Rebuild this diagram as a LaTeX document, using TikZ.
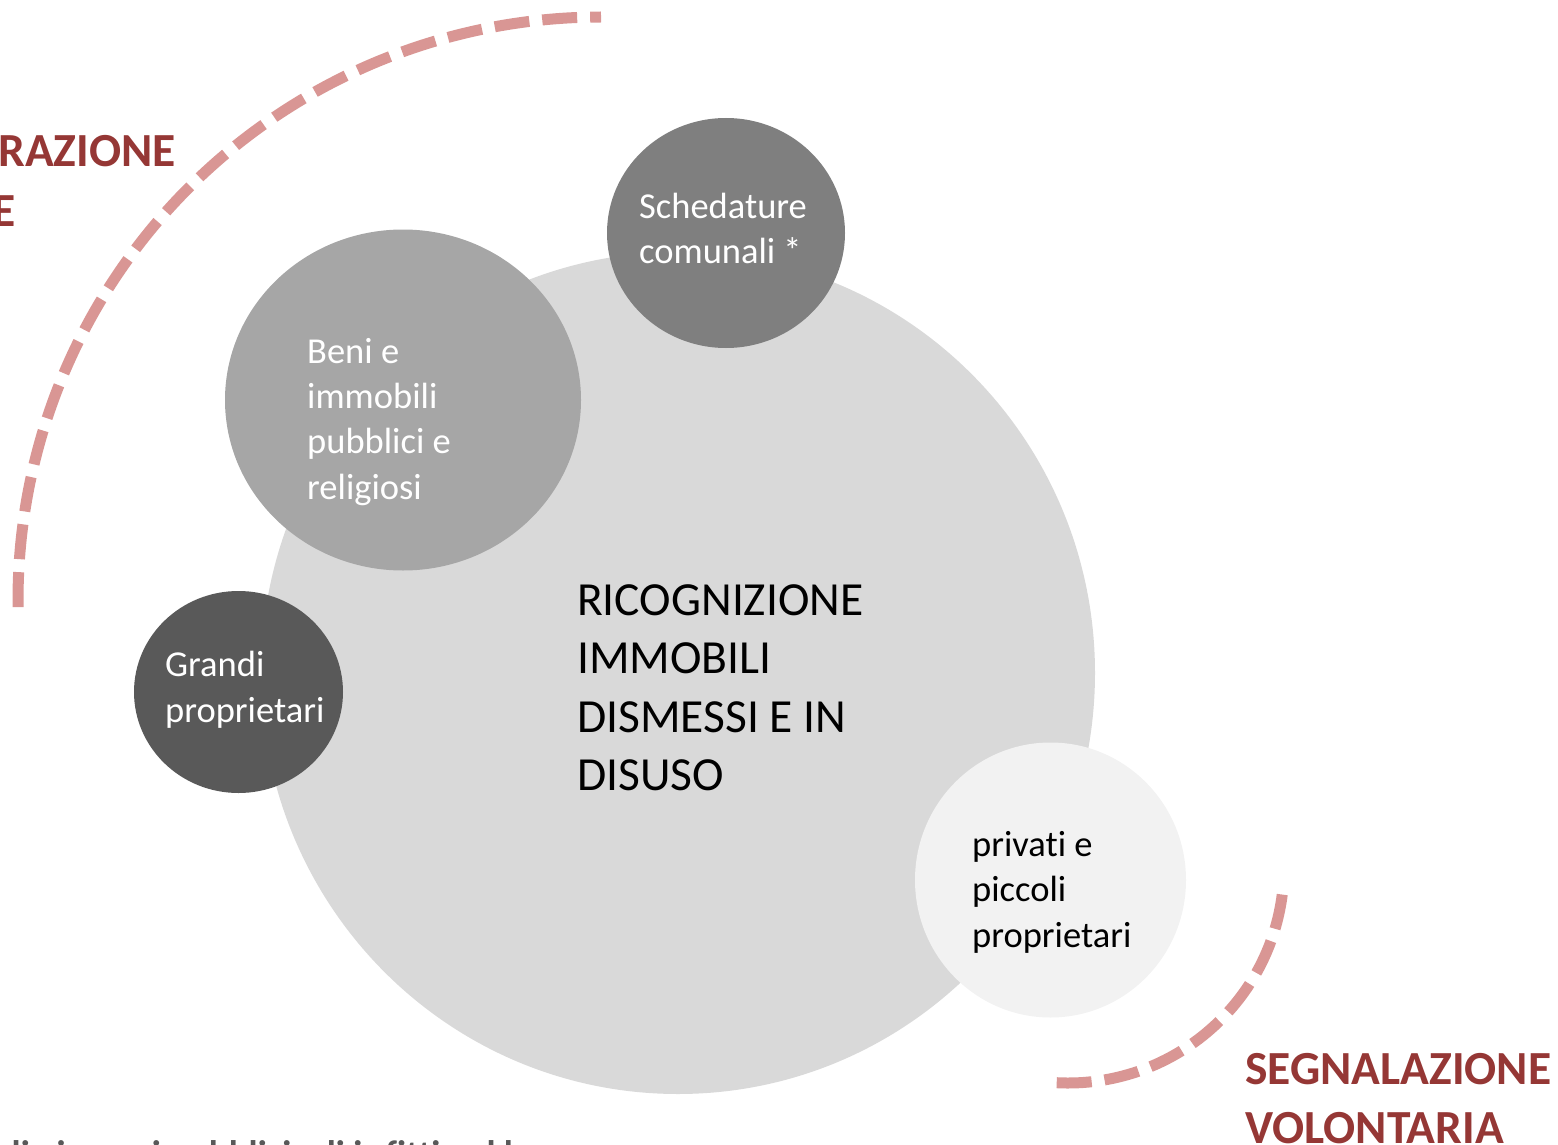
\documentclass[tikz,border=0pt]{standalone}
\usepackage{fontspec}
\setmainfont{Carlito}[Ligatures=NoCommon]
\usetikzlibrary{shapes.geometric}
\definecolor{bigc}{HTML}{D9D9D9}
\definecolor{benic}{HTML}{A6A6A6}
\definecolor{schedc}{HTML}{7F7F7F}
\definecolor{grandic}{HTML}{595959}
\definecolor{privc}{HTML}{F2F2F2}
\definecolor{redtxt}{HTML}{953735}
\definecolor{dashc}{HTML}{D99694}
\definecolor{foottxt}{HTML}{595959}
\tikzset{
  blob/.style={ellipse, draw=none, inner sep=0pt},
  small/.style={inner sep=0pt, anchor=base west, align=left,
    font=\fontsize{36.5}{45.4}\selectfont},
  large/.style={inner sep=0pt, anchor=base west, align=left,
    font=\fontsize{47.5}{58.5}\selectfont},
  heading/.style={inner sep=0pt, align=left, text=redtxt,
    font=\fontsize{47.5}{59}\selectfont\bfseries},
  arcline/.style={draw=dashc, line width=11pt, dash pattern=on 35pt off 13pt}
}
\begin{document}
\begin{tikzpicture}[x=1pt,y=1pt]
\useasboundingbox (0,0) rectangle (1558,-1145);
% dashed arcs
\coordinate (tlstart) at ({601+583*cos(180.7)},{-600+583*sin(180.7)});
\draw[arcline] (tlstart) arc[start angle=180.7, end angle=90, radius=583];
\coordinate (brstart) at ({1068+216*cos(-93)},{-867+216*sin(-93)});
\draw[arcline] (brstart) arc[start angle=-93, end angle=-7, radius=216];
% circles
\node[blob, fill=bigc, minimum width=834pt, minimum height=842pt] (big) at (678,-673) {};
\node[blob, fill=benic, minimum width=356pt, minimum height=341pt] (beni) at (403,-400) {};
\node[blob, fill=schedc, minimum width=238pt, minimum height=230pt] (sched) at (726,-233) {};
\node[blob, fill=grandic, minimum width=209pt, minimum height=202pt] (grandi) at (238.5,-692) {};
\node[blob, fill=privc, minimum width=271pt, minimum height=275pt] (priv) at (1050.5,-880) {};
% texts (base anchor = baseline of the last line)
\node[small, text=white, font=\fontsize{36.5}{45}\selectfont] (schedt) at (639,-263) {Schedature\\comunali *};
\node[small, text=white, font=\fontsize{36.5}{45.3}\selectfont] (benit) at (307,-499) {Beni e\\immobili\\pubblici e\\religiosi};
\node[small, text=white, font=\fontsize{36.5}{46}\selectfont] (grandit) at (165,-722) {Grandi\\proprietari};
\node[small, text=black, font=\fontsize{36.5}{45.5}\selectfont] (privt) at (972,-947) {privati e\\piccoli\\proprietari};
\node[large, text=black] (ricog) at (577,-790.5) {RICOGNIZIONE\\IMMOBILI\\DISMESSI E IN\\DISUSO};
\node[heading, anchor=base west] (segn) at (1245,-1143) {SEGNALAZIONE\\VOLONTARIA};
\node[heading, anchor=base east] (raz1) at (176,-167) {RAZIONE};
\node[heading, anchor=base east] (raz2) at (16,-226) {E};
\node[inner sep=0pt, anchor=base west, text=foottxt,
  font=\fontsize{37}{44}\selectfont\bfseries] (foot) at (-6,-1166)
  {gli ai mezzi pubblici e li i sfitti e d l};
\end{tikzpicture}
\end{document}
